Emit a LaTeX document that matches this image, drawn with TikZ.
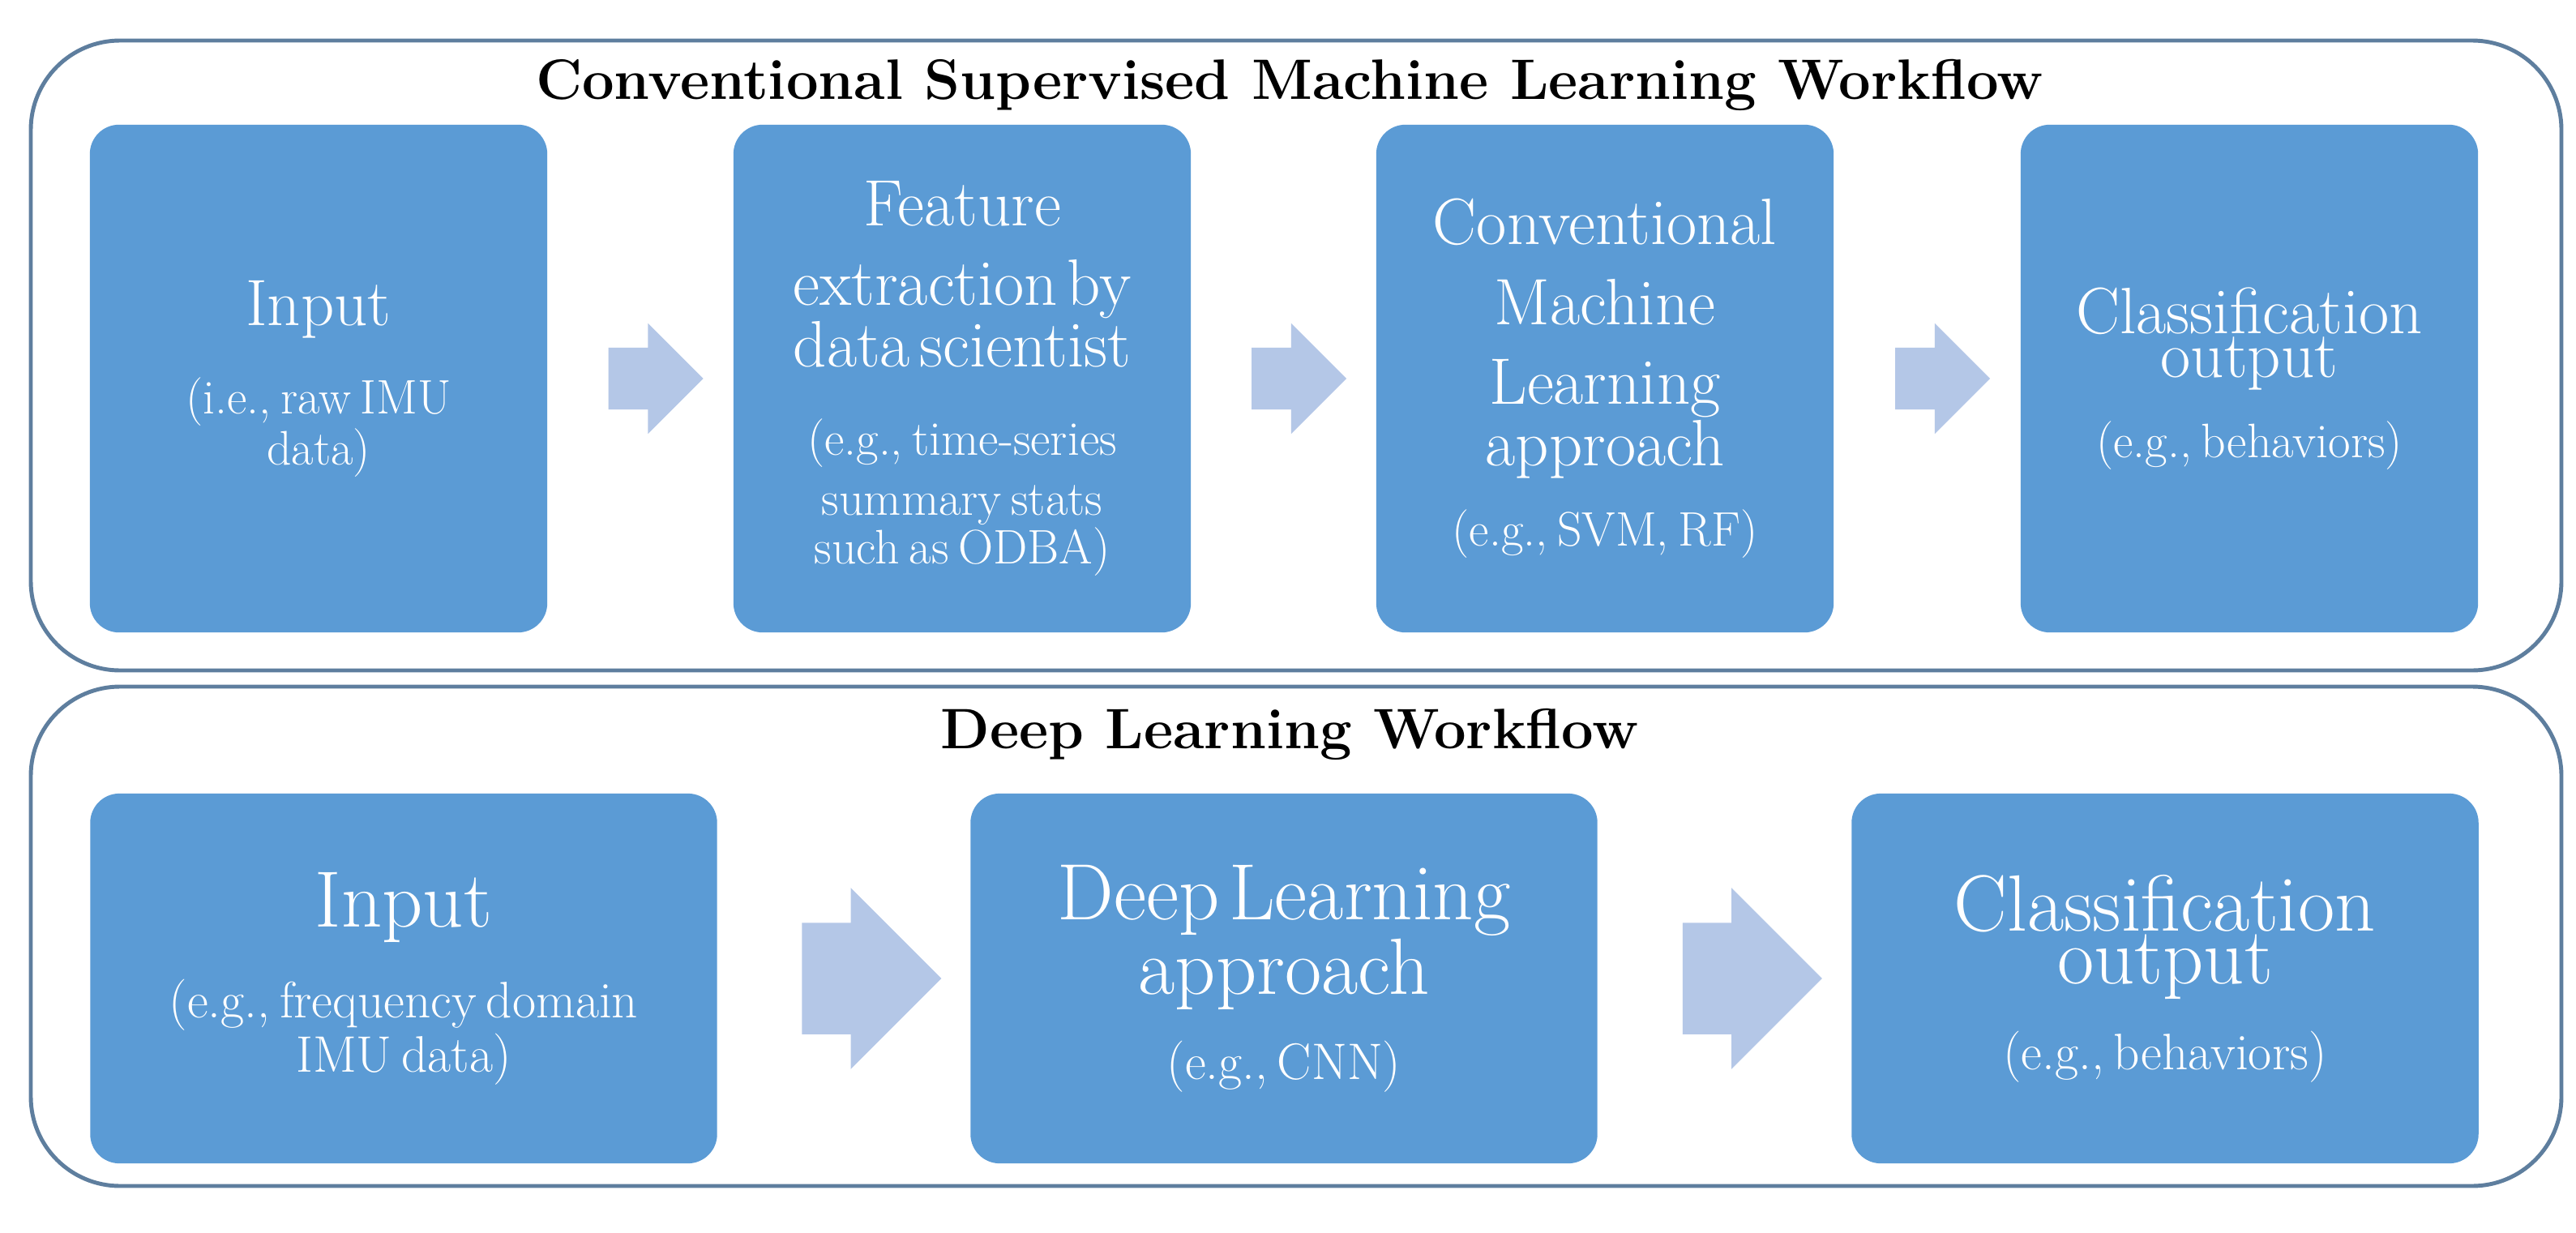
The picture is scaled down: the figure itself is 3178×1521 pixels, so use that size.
\documentclass[tikz,border=0pt]{standalone}
\usetikzlibrary{shapes.arrows,calc}
\definecolor{boxblue}{HTML}{5B9BD5}
\definecolor{arrblue}{HTML}{B4C7E7}
\definecolor{frame}{HTML}{5E7E9E}
\begin{document}
\begin{tikzpicture}[x=0.01cm,y=-0.01cm,
  frm/.style={draw=frame,line width=1.4pt,rounded corners=1.1cm,fill=white},
  box/.style={fill=boxblue,rounded corners=0.36cm,text=white,align=center,inner sep=0pt},
  ttl/.style={font=\fontsize{20}{24}\selectfont\bfseries},
  arr/.style={single arrow,fill=arrblue,inner xsep=0pt,text height=0pt,text depth=0pt,shape border rotate=0,anchor=center},
]
\useasboundingbox (0,0) rectangle (3178,1521);
\draw[frm] (38,50) rectangle (3160,827);
\draw[frm] (38,847) rectangle (3160,1463);
\node[ttl] (t1) at (1591,105) {Conventional Supervised Machine Learning Workflow};
\node[ttl] (t2) at (1591,906) {Deep Learning Workflow};
% top row
\tikzset{tb/.style={box,minimum width=5.64cm,minimum height=6.26cm,text width=5.4cm}}
\newcommand{\mainA}[1]{{\fontsize{23}{28}\selectfont #1}}
\newcommand{\subA}[1]{{\fontsize{17}{21}\selectfont #1}}
\node[tb] (a1) at (393,467) {\mainA{Input}\\[10pt]\subA{(i.e., raw IMU\\ data)}};
\node[tb] (a2) at (1187,467) {\mainA{Feature\\ extraction by\\ data scientist}\\[10pt]\subA{(e.g., time-series\\ summary stats\\ such as ODBA)}};
\node[tb] (a3) at (1980,467) {\mainA{Conventional\\ Machine\\ Learning\\ approach}\\[10pt]\subA{(e.g., SVM, RF)}};
\node[tb] (a4) at (2775,467) {\mainA{Classification\\ output}\\[10pt]\subA{(e.g., behaviors)}};
\tikzset{ta/.style={arr,minimum height=1.17cm,inner ysep=0.375cm,single arrow head extend=0.3cm}}
\node[ta] (r1) at ($(a1.east)!0.5!(a2.west)$) {};
\node[ta] (r2) at ($(a2.east)!0.5!(a3.west)$) {};
\node[ta] (r3) at ($(a3.east)!0.5!(a4.west)$) {};
% bottom row
\tikzset{bb/.style={box,minimum width=7.73cm,minimum height=4.56cm,text width=7.5cm}}
\newcommand{\mainB}[1]{{\fontsize{28}{34}\selectfont #1}}
\newcommand{\subB}[1]{{\fontsize{18}{22}\selectfont #1}}
\node[bb] (b1) at (498,1207) {\mainB{Input}\\[10pt]\subB{(e.g., frequency domain\\ IMU data)}};
\node[bb] (b2) at (1584,1207) {\mainB{Deep Learning\\ approach}\\[10pt]\subB{(e.g., CNN)}};
\node[bb] (b3) at (2671,1207) {\mainB{Classification\\ output}\\[10pt]\subB{(e.g., behaviors)}};
\tikzset{ba/.style={arr,minimum height=1.72cm,inner ysep=0.68cm,single arrow head extend=0.43cm}}
\node[ba] (s1) at ($(b1.east)!0.5!(b2.west)$) {};
\node[ba] (s2) at ($(b2.east)!0.5!(b3.west)$) {};
\end{tikzpicture}
\end{document}
